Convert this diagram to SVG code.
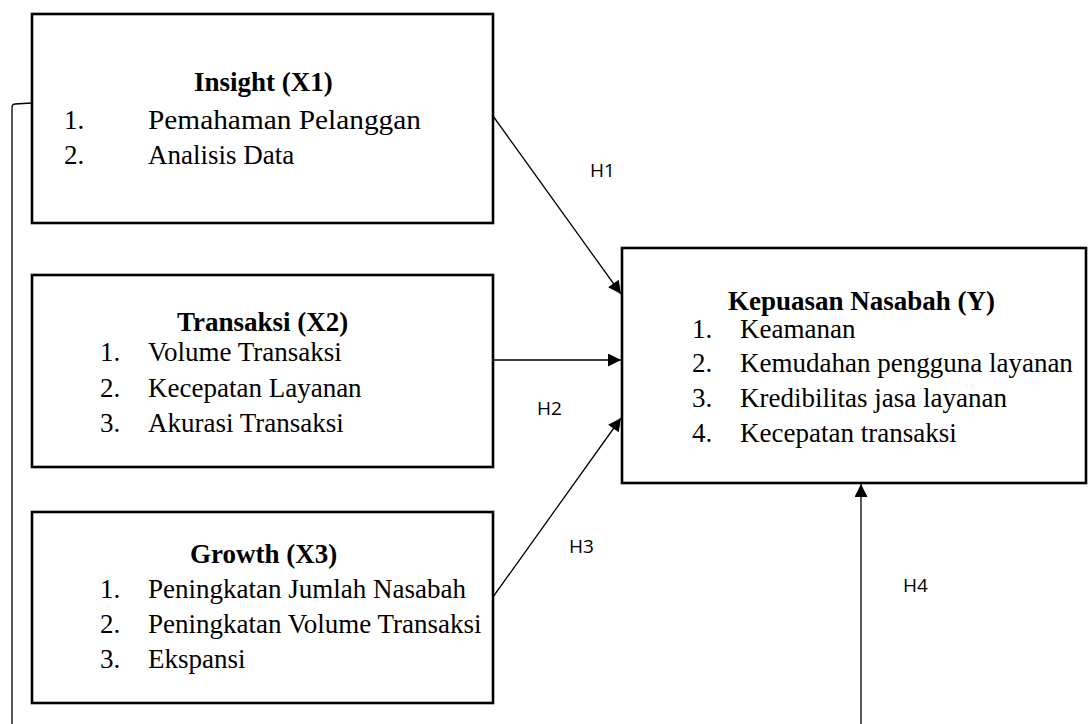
<svg xmlns="http://www.w3.org/2000/svg" width="1088" height="724" viewBox="0 0 1088 724">
<style>
.box{fill:#fff;stroke:#000;stroke-width:2.6}
.t{font-family:"Liberation Serif",serif;font-size:27px;fill:#000}
.b{font-weight:bold}
.h{font-family:"Open Sans","Liberation Sans",sans-serif;font-size:19px;fill:#000}
.c{fill:none;stroke:#000;stroke-width:1.3}
</style>
<defs>
<marker id="ah" viewBox="0 0 10 10" refX="10" refY="5" markerWidth="15" markerHeight="13" markerUnits="userSpaceOnUse" orient="auto">
<path d="M0,0 L10,5 L0,10 z" fill="#000"/>
</marker>
</defs>
<g id="connectors">
<path class="c" d="M32,103 L15,104 Q12,104 12,108 L12,724"/>
<line class="c" x1="493" y1="116" x2="621" y2="294" marker-end="url(#ah)"/>
<line class="c" x1="493" y1="360" x2="621" y2="360" marker-end="url(#ah)"/>
<line class="c" x1="493" y1="597" x2="621" y2="418" marker-end="url(#ah)"/>
<line class="c" x1="861" y1="724" x2="861" y2="484" marker-end="url(#ah)"/>
<text class="h" x="590" y="177">H1</text>
<text class="h" x="537" y="415">H2</text>
<text class="h" x="569" y="553">H3</text>
<text class="h" x="903" y="592">H4</text>
</g>
<g id="x1">
<rect class="box" x="32" y="14" width="461" height="209"/>
<text class="t b" x="194" y="91">Insight (X1)</text>
<text class="t" x="64" y="129">1.</text>
<text class="t" x="148" y="129" textLength="273" lengthAdjust="spacingAndGlyphs">Pemahaman Pelanggan</text>
<text class="t" x="64" y="164">2.</text>
<text class="t" x="148" y="164">Analisis Data</text>
</g>
<g id="x2">
<rect class="box" x="32" y="275" width="461" height="192"/>
<text class="t b" x="177" y="331">Transaksi (X2)</text>
<text class="t" x="100" y="361">1.</text>
<text class="t" x="148" y="361">Volume Transaksi</text>
<text class="t" x="100" y="397">2.</text>
<text class="t" x="148" y="397">Kecepatan Layanan</text>
<text class="t" x="100" y="432">3.</text>
<text class="t" x="148" y="432">Akurasi Transaksi</text>
</g>
<g id="x3">
<rect class="box" x="32" y="512" width="461" height="191"/>
<text class="t b" x="190" y="563">Growth (X3)</text>
<text class="t" x="100" y="598">1.</text>
<text class="t" x="148" y="598">Peningkatan Jumlah Nasabah</text>
<text class="t" x="100" y="633">2.</text>
<text class="t" x="148" y="633">Peningkatan Volume Transaksi</text>
<text class="t" x="100" y="668">3.</text>
<text class="t" x="148" y="668">Ekspansi</text>
</g>
<g id="y">
<rect class="box" x="622" y="248" width="464" height="235"/>
<text class="t b" x="728" y="310">Kepuasan Nasabah (Y)</text>
<text class="t" x="692" y="338">1.</text>
<text class="t" x="740" y="338">Keamanan</text>
<text class="t" x="692" y="372">2.</text>
<text class="t" x="740" y="372">Kemudahan pengguna layanan</text>
<text class="t" x="692" y="407">3.</text>
<text class="t" x="740" y="407">Kredibilitas jasa layanan</text>
<text class="t" x="692" y="442">4.</text>
<text class="t" x="740" y="442">Kecepatan transaksi</text>
</g>
</svg>
